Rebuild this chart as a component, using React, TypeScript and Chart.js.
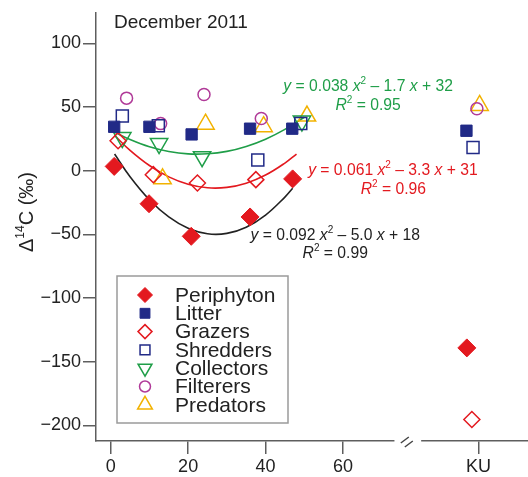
import React, { useEffect, useRef } from 'react';
import { Chart, registerables } from 'chart.js';
import { drawPoint } from 'chart.js/helpers';

Chart.register(...registerables);

const FONT = '"Liberation Sans", Arial, Helvetica, sans-serif';

// ---- axes ----
const KU = 95;
const xTickValues = [0, 20, 40, 60, KU];
const xTickLabels = ['0', '20', '40', '60', 'KU'];
const yTickValues = [-200, -150, -100, -50, 0, 50, 100];
const breakFrom = 73.3;
const breakTo = 80.2;

// ---- series (x = distance, KU points placed near KU) ----
const periphytonX = [0.9, 9.9, 20.8, 36.0, 47.0, 92.0];
const periphytonY = [3.4, -25.9, -51.5, -36.3, -6.4, -139.1];

const litterX = [0.9, 10.0, 20.9, 36.0, 46.9, 91.9];
const litterY = [34.5, 34.5, 28.5, 33.0, 33.0, 31.4];

const grazersX = [1.9, 11.0, 22.4, 37.5, 93.3];
const grazersY = [23.6, -3.1, -9.6, -7.0, -195.3];

const shreddersX = [3.0, 12.3, 38.0, 49.1, 93.6];
const shreddersY = [43.0, 35.3, 8.5, 37.0, 18.2];

const collectorsX = [3.0, 12.5, 23.6, 49.4];
const collectorsY = [26.0, 21.3, 11.0, 39.0];

const filterersX = [4.1, 12.9, 24.1, 38.9, 94.6];
const filterersY = [57.0, 37.0, 59.8, 41.0, 48.7];

const predatorsX = [13.4, 24.5, 39.5, 50.7, 95.3];
const predatorsY = [-6.3, 36.5, 34.6, 42.9, 51.3];

// ---- fitted curves ----
const blackCurveX = [1, 5, 10, 15, 20, 25, 30, 35, 40, 45, 47];
const blackCurveY = [13.1, -4.7, -22.8, -36.3, -45.2, -49.5, -49.2, -44.3, -34.8, -20.7, -13.8];

const redCurveX = [1, 5, 10, 15, 20, 25, 30, 35, 40, 45, 48];
const redCurveY = [27.8, 16.0, 4.1, -4.8, -10.6, -13.4, -13.1, -9.8, -3.4, 6.0, 13.1];

const greenCurveX = [1, 5, 10, 15, 20, 25, 30, 35, 40, 45, 50];
const greenCurveY = [30.3, 24.5, 18.8, 15.1, 13.2, 13.3, 15.2, 19.1, 24.8, 32.5, 42.0];

const seriesNames = ['Periphyton', 'Litter', 'Grazers', 'Shredders', 'Collectors', 'Filterers', 'Predators'];

const RED = '#e3191f';
const NAVY = '#212a87';
const GREEN = '#1f9e48';
const PURPLE = '#b03a98';
const YELLOW = '#f2b200';
const AXIS = '#5e5e5e';
const TEXT = '#222222';

type Seg = { t: string; it?: boolean; sup?: boolean };

const annotations: { segs: Seg[]; x: number; y: number; color: string }[] = [
  { segs: [{ t: 'y', it: true }, { t: ' = 0.038 ' }, { t: 'x', it: true }, { t: '2', sup: true }, { t: ' – 1.7 ' }, { t: 'x', it: true }, { t: ' + 32' }], x: 66.5, y: 66.1, color: GREEN },
  { segs: [{ t: 'R', it: true }, { t: '2', sup: true }, { t: ' = 0.95' }], x: 66.5, y: 51.3, color: GREEN },
  { segs: [{ t: 'y', it: true }, { t: ' = 0.061 ' }, { t: 'x', it: true }, { t: '2', sup: true }, { t: ' – 3.3 ' }, { t: 'x', it: true }, { t: ' + 31' }], x: 72.9, y: 0, color: RED },
  { segs: [{ t: 'R', it: true }, { t: '2', sup: true }, { t: ' = 0.96' }], x: 73.0, y: -14.8, color: RED },
  { segs: [{ t: 'y', it: true }, { t: ' = 0.092 ' }, { t: 'x', it: true }, { t: '2', sup: true }, { t: ' – 5.0 ' }, { t: 'x', it: true }, { t: ' + 18' }], x: 58.0, y: -51.0, color: TEXT },
  { segs: [{ t: 'R', it: true }, { t: '2', sup: true }, { t: ' = 0.99' }], x: 58.0, y: -65.3, color: TEXT },
];

function zip(xs: number[], ys: number[]) {
  return xs.map((x, i) => ({ x, y: ys[i] }));
}

function drawRich(ctx: CanvasRenderingContext2D, segs: Seg[], cx: number, cy: number, size: number, color: string) {
  ctx.save();
  ctx.fillStyle = color;
  ctx.textBaseline = 'middle';
  ctx.textAlign = 'left';
  const fontFor = (s: Seg) => `${s.it ? 'italic ' : ''}${s.sup ? Math.round(size * 0.62) : size}px ${FONT}`;
  let total = 0;
  const widths = segs.map((s) => {
    ctx.font = fontFor(s);
    const w = ctx.measureText(s.t).width;
    total += w;
    return w;
  });
  let x = cx - total / 2;
  segs.forEach((s, i) => {
    ctx.font = fontFor(s);
    ctx.fillText(s.t, x, s.sup ? cy - size * 0.33 : cy);
    x += widths[i];
  });
  ctx.restore();
}

const legendRadius = [7.5, 7, 7, 7, 8, 5.5, 8.5];

const extrasPlugin = {
  id: 'extras',
  afterDatasetsDraw(chart: any) {
    const ctx: CanvasRenderingContext2D = chart.ctx;
    const xs = chart.scales.x;
    const ys = chart.scales.y;
    // annotations
    annotations.forEach((a) => drawRich(ctx, a.segs, xs.getPixelForValue(a.x), ys.getPixelForValue(a.y), 15.7, a.color));
    // title
    ctx.save();
    ctx.fillStyle = TEXT;
    ctx.font = `19px ${FONT}`;
    ctx.textBaseline = 'middle';
    ctx.textAlign = 'left';
    ctx.fillText('December 2011', 114, 23);
    ctx.restore();
    // y axis title
    ctx.save();
    ctx.translate(27, 212);
    ctx.rotate(-Math.PI / 2);
    drawRich(ctx, [{ t: 'Δ' }, { t: '14', sup: true }, { t: 'C (‰)' }], 0, 0, 20, TEXT);
    ctx.restore();
    // legend
    ctx.save();
    ctx.fillStyle = '#ffffff';
    ctx.strokeStyle = '#9a9a9a';
    ctx.lineWidth = 1.5;
    ctx.fillRect(117, 276, 171, 147);
    ctx.strokeRect(117, 276, 171, 147);
    const pointSets = chart.data.datasets.filter((d: any) => d.isSeries);
    pointSets.forEach((d: any, i: number) => {
      const cy = 295 + i * 18.3;
      ctx.save();
      ctx.fillStyle = d.pointBackgroundColor;
      ctx.strokeStyle = d.pointBorderColor;
      ctx.lineWidth = d.pointBorderWidth;
      drawPoint(ctx, { pointStyle: d.pointStyle, rotation: d.pointRotation || 0, radius: legendRadius[i], borderWidth: d.pointBorderWidth } as any, 145, cy);
      ctx.restore();
      ctx.fillStyle = TEXT;
      ctx.font = `21px ${FONT}`;
      ctx.textBaseline = 'middle';
      ctx.textAlign = 'left';
      ctx.fillText(d.label, 175, cy + 1);
    });
    ctx.restore();
  },
  afterDraw(chart: any) {
    const ctx: CanvasRenderingContext2D = chart.ctx;
    const xs = chart.scales.x;
    const yb = chart.chartArea.bottom;
    const g0 = xs.getPixelForValue(breakFrom);
    const g1 = xs.getPixelForValue(breakTo);
    ctx.save();
    ctx.fillStyle = '#ffffff';
    ctx.fillRect(g0, yb - 3, g1 - g0, 6);
    ctx.strokeStyle = '#444';
    ctx.lineWidth = 1.5;
    const cx = (g0 + g1) / 2;
    ctx.beginPath();
    ctx.moveTo(cx - 7, yb + 2);
    ctx.lineTo(cx + 1, yb - 4);
    ctx.moveTo(cx - 3, yb + 6);
    ctx.lineTo(cx + 5, yb);
    ctx.stroke();
    ctx.restore();
  },
};

function marker(label: string, xs: number[], ys: number[], style: string, radius: number, fill: string, stroke: string, bw: number, rotation = 0) {
  return {
    label,
    isSeries: true,
    data: zip(xs, ys),
    pointStyle: style,
    pointRadius: radius,
    pointRotation: rotation,
    pointBackgroundColor: fill,
    pointBorderColor: stroke,
    pointBorderWidth: bw,
    showLine: false,
    order: 0,
  };
}

function curve(xs: number[], ys: number[], color: string) {
  return {
    label: '',
    data: zip(xs, ys),
    showLine: true,
    borderColor: color,
    borderWidth: 1.6,
    pointRadius: 0,
    tension: 0.4,
    order: 10,
  };
}

export default function App() {
  const ref = useRef<HTMLCanvasElement | null>(null);
  useEffect(() => {
    if (!ref.current) return;
    const chart = new Chart(ref.current, {
      type: 'scatter',
      data: {
        datasets: [
          marker(seriesNames[0], periphytonX, periphytonY, 'rectRot', 9, RED, RED, 1),
          marker(seriesNames[1], litterX, litterY, 'rect', 8, NAVY, NAVY, 1),
          marker(seriesNames[2], grazersX, grazersY, 'rectRot', 8, 'rgba(0,0,0,0)', RED, 1.5),
          marker(seriesNames[3], shreddersX, shreddersY, 'rect', 8.5, 'rgba(0,0,0,0)', NAVY, 1.5),
          marker(seriesNames[4], collectorsX, collectorsY, 'triangle', 10, 'rgba(0,0,0,0)', GREEN, 1.5, 180),
          marker(seriesNames[5], filterersX, filterersY, 'circle', 6, 'rgba(0,0,0,0)', PURPLE, 1.5),
          marker(seriesNames[6], predatorsX, predatorsY, 'triangle', 10, 'rgba(0,0,0,0)', YELLOW, 1.5),
          curve(blackCurveX, blackCurveY, '#222222'),
          curve(redCurveX, redCurveY, RED),
          curve(greenCurveX, greenCurveY, GREEN),
        ] as any,
      },
      options: {
        animation: false,
        responsive: false,
        layout: { autoPadding: false, padding: { top: 8, right: 0, left: 0, bottom: 0 } },
        plugins: { legend: { display: false }, tooltip: { enabled: false } },
        scales: {
          x: {
            type: 'linear',
            min: -3.8,
            max: 107.8,
            afterFit: (s: any) => { s.height = 36; },
            afterBuildTicks: (s: any) => { s.ticks = xTickValues.map((v) => ({ value: v })); },
            ticks: {
              autoSkip: false,
              maxRotation: 0,
              padding: 2,
              color: TEXT,
              font: { family: FONT, size: 18 },
              callback: (v: any) => {
                const i = xTickValues.indexOf(Number(v));
                return i >= 0 ? xTickLabels[i] : '';
              },
            },
            grid: { drawOnChartArea: false, drawTicks: true, tickLength: 13, color: AXIS, lineWidth: 1.5 },
            border: { display: true, color: AXIS, width: 1.5 },
          },
          y: {
            type: 'linear',
            min: -212.2,
            max: 124,
            afterFit: (s: any) => { s.width = 96; },
            afterBuildTicks: (s: any) => { s.ticks = yTickValues.map((v) => ({ value: v })); },
            ticks: {
              autoSkip: false,
              padding: 2,
              color: TEXT,
              font: { family: FONT, size: 18 },
              callback: (v: any) => (Number(v) < 0 ? '−' + Math.abs(Number(v)) : String(v)),
            },
            grid: { drawOnChartArea: false, drawTicks: true, tickLength: 13, color: AXIS, lineWidth: 1.5 },
            border: { display: true, color: AXIS, width: 1.5 },
          },
        },
      },
      plugins: [extrasPlugin],
    });
    return () => chart.destroy();
  }, []);
  return (
    <div style={{ position: 'absolute', left: 0, top: 0, width: 528, height: 477, background: '#fff' }}>
      <canvas ref={ref} width={528} height={477} style={{ display: 'block' }} />
    </div>
  );
}
